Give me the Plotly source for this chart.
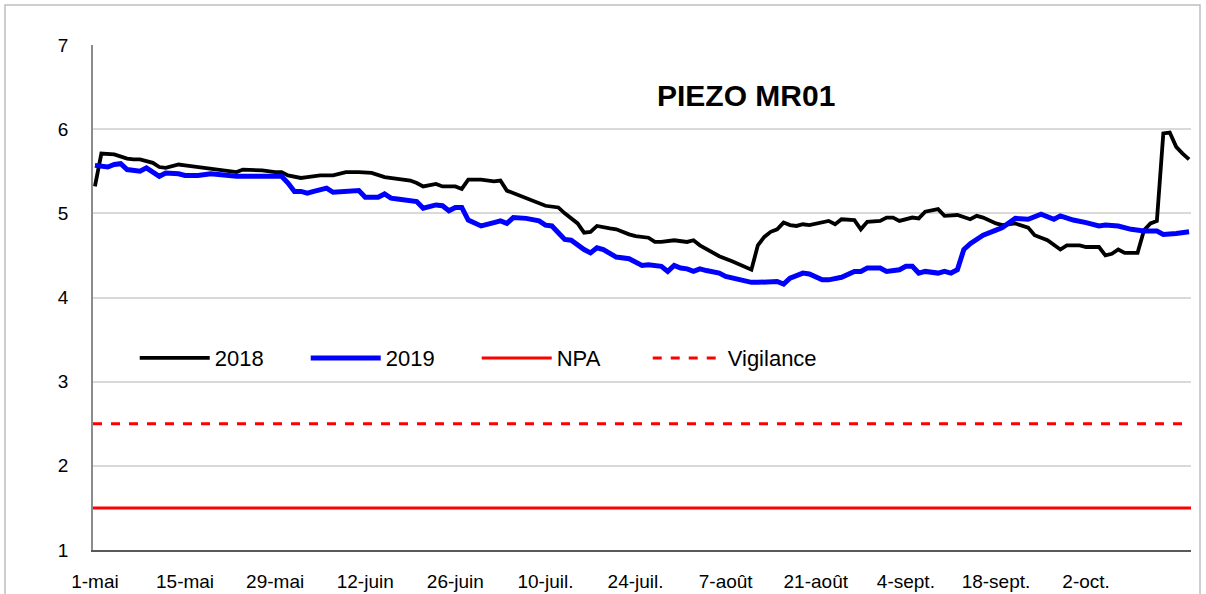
import pandas as pd
import plotly.graph_objects as go

# ---- data (day offsets from 1 May) ----
days_2018 = [0, 1, 3, 5, 6, 7, 9, 10, 11, 13, 14, 16, 18, 19, 21, 22, 23, 24, 26, 28,
             29, 30, 32, 33, 34, 35, 37, 39, 41, 43, 45, 46, 47, 49, 50, 51, 53, 54, 56, 57,
             58, 60, 62, 63, 64, 66, 67, 69, 70, 72, 73, 75, 76, 77, 78, 80, 81, 83, 84, 86,
             87, 88, 90, 92, 93, 94, 96, 97, 99, 100, 102, 103, 104, 105, 106, 107, 108, 109, 110, 111,
             112, 114, 115, 116, 118, 119, 120, 122, 123, 124, 125, 127, 128, 129, 131, 132, 134, 136, 137, 138,
             140, 141, 143, 145, 146, 148, 150, 151, 153, 154, 156, 157, 158, 159, 160, 162, 163, 164, 165, 166,
             167, 168, 169, 170]
vals_2018 = [5.32, 5.71, 5.70, 5.65, 5.64, 5.64, 5.60, 5.55, 5.54, 5.58, 5.57, 5.55, 5.53, 5.52, 5.51, 5.49, 5.52, 5.52, 5.51, 5.49,
             5.49, 5.45, 5.42, 5.43, 5.44, 5.45, 5.45, 5.49, 5.49, 5.48, 5.43, 5.42, 5.40, 5.39, 5.36, 5.32, 5.35, 5.32, 5.32, 5.29,
             5.40, 5.40, 5.38, 5.39, 5.27, 5.21, 5.17, 5.12, 5.09, 5.07, 5.00, 4.88, 4.77, 4.78, 4.85, 4.82, 4.81, 4.75, 4.73, 4.71,
             4.66, 4.66, 4.68, 4.66, 4.68, 4.62, 4.53, 4.49, 4.43, 4.40, 4.33, 4.62, 4.72, 4.78, 4.81, 4.89, 4.86, 4.85, 4.87, 4.86,
             4.88, 4.91, 4.87, 4.93, 4.92, 4.81, 4.90, 4.91, 4.95, 4.95, 4.91, 4.95, 4.94, 5.02, 5.05, 4.97, 4.98, 4.93, 4.97, 4.95,
             4.88, 4.86, 4.88, 4.83, 4.74, 4.68, 4.57, 4.62, 4.62, 4.60, 4.60, 4.50, 4.52, 4.57, 4.53, 4.53, 4.80, 4.88, 4.91, 5.95,
             5.96, 5.79, 5.71, 5.64]

days_2019 = [0, 1, 2, 3, 4, 5, 7, 8, 9, 10, 11, 13, 14, 16, 18, 19, 21, 22, 24, 29,
             30, 31, 32, 33, 34, 35, 36, 37, 39, 41, 42, 44, 45, 46, 47, 49, 50, 51, 53, 54,
             55, 56, 57, 58, 60, 62, 63, 64, 65, 67, 68, 69, 70, 71, 72, 73, 74, 75, 76, 77,
             78, 79, 80, 81, 83, 85, 86, 88, 89, 90, 91, 92, 93, 94, 95, 97, 98, 100, 101, 102,
             103, 106, 107, 108, 110, 111, 113, 114, 116, 118, 119, 120, 122, 123, 125, 126, 127, 128, 129, 131,
             132, 133, 134, 135, 136, 137, 138, 140, 141, 143, 145, 147, 149, 150, 152, 154, 156, 157, 159, 161,
             163, 165, 166, 168, 169, 170]
vals_2019 = [5.57, 5.56, 5.55, 5.58, 5.59, 5.52, 5.50, 5.54, 5.49, 5.44, 5.48, 5.47, 5.45, 5.45, 5.47, 5.46, 5.45, 5.44, 5.44, 5.44,
             5.36, 5.26, 5.26, 5.24, 5.26, 5.28, 5.30, 5.25, 5.26, 5.27, 5.19, 5.19, 5.23, 5.18, 5.17, 5.15, 5.14, 5.06, 5.10, 5.09,
             5.03, 5.07, 5.07, 4.92, 4.85, 4.89, 4.91, 4.88, 4.95, 4.94, 4.92, 4.91, 4.86, 4.85, 4.77, 4.69, 4.68, 4.62, 4.57, 4.53,
             4.59, 4.57, 4.52, 4.48, 4.46, 4.38, 4.39, 4.37, 4.31, 4.38, 4.35, 4.34, 4.31, 4.34, 4.32, 4.29, 4.25, 4.21, 4.19, 4.18,
             4.18, 4.19, 4.16, 4.23, 4.29, 4.28, 4.21, 4.21, 4.24, 4.31, 4.31, 4.35, 4.35, 4.31, 4.33, 4.37, 4.37, 4.29, 4.31, 4.29,
             4.31, 4.29, 4.33, 4.57, 4.64, 4.69, 4.74, 4.80, 4.83, 4.94, 4.93, 4.99, 4.93, 4.97, 4.92, 4.89, 4.85, 4.86, 4.85, 4.81,
             4.79, 4.79, 4.75, 4.76, 4.77, 4.78]

npa_level = 1.5
vigilance_level = 2.5

tick_days = [0, 14, 28, 42, 56, 70, 84, 98, 112, 126, 140, 154]
tick_labels = ["1-mai", "15-mai", "29-mai", "12-juin", "26-juin", "10-juil.", "24-juil.",
               "7-août", "21-août", "4-sept.", "18-sept.", "2-oct."]

base = pd.Timestamp("2019-05-01")
def to_date(d):
    return base + pd.to_timedelta(d, unit="D")

x_start = to_date(-0.3)
x_end = to_date(170.3)

FONT = "Liberation Sans, Arial, sans-serif"

fig = go.Figure()
fig.add_trace(go.Scatter(x=to_date(pd.Series(days_2018)), y=vals_2018, mode="lines", name="2018",
                         line=dict(color="black", width=3.8)))
fig.add_trace(go.Scatter(x=to_date(pd.Series(days_2019)), y=vals_2019, mode="lines", name="2019",
                         line=dict(color="#0000ff", width=5)))
fig.add_trace(go.Scatter(x=[x_start, x_end], y=[npa_level, npa_level], mode="lines", name="NPA",
                         line=dict(color="#ff0000", width=3)))
fig.add_trace(go.Scatter(x=[x_start, x_end], y=[vigilance_level, vigilance_level], mode="lines",
                         name="Vigilance", line=dict(color="#ff0000", width=3, dash="dash")))

fig.update_layout(
    width=1206, height=594,
    margin=dict(l=93, r=15, t=45, b=44),
    paper_bgcolor="white", plot_bgcolor="white",
    font=dict(family=FONT, size=19, color="black"),
    showlegend=True,
    legend=dict(orientation="h", x=0.038, y=0.38, xanchor="left", yanchor="middle",
                font=dict(size=22), bgcolor="rgba(0,0,0,0)", entrywidth=86, itemwidth=70),
    xaxis=dict(range=[x_start, x_end], tickvals=[to_date(d) for d in tick_days], ticktext=tick_labels,
               showgrid=False, showline=True, linecolor="#595959", linewidth=1.5,
               ticks="", ticklabelstandoff=13, zeroline=False, automargin=False),
    yaxis=dict(range=[1, 7], dtick=1, showgrid=True, gridcolor="#d9d9d9", gridwidth=1.5,
               showline=True, linecolor="#8c8c8c", linewidth=1.5, ticks="", ticklabelstandoff=19,
               zeroline=False, automargin=False),
    annotations=[dict(text="<b>PIEZO MR01</b>", x=0.595, y=0.90, xref="paper", yref="paper",
                      xanchor="center", yanchor="middle",
                      showarrow=False, font=dict(size=30, family=FONT, color="black"))],
    shapes=[dict(type="rect", xref="paper", yref="paper",
                 x0=(5 - 93) / 1098, x1=(1200 - 93) / 1098, y0=-0.2, y1=(550 - 5) / 505,
                 line=dict(color="#bfbfbf", width=1.5), fillcolor="rgba(0,0,0,0)", layer="below")],
)

fig.write_html("out.html", config={"displayModeBar": False},
               post_script="document.body.style.margin='0px';document.body.style.padding='0px';")
